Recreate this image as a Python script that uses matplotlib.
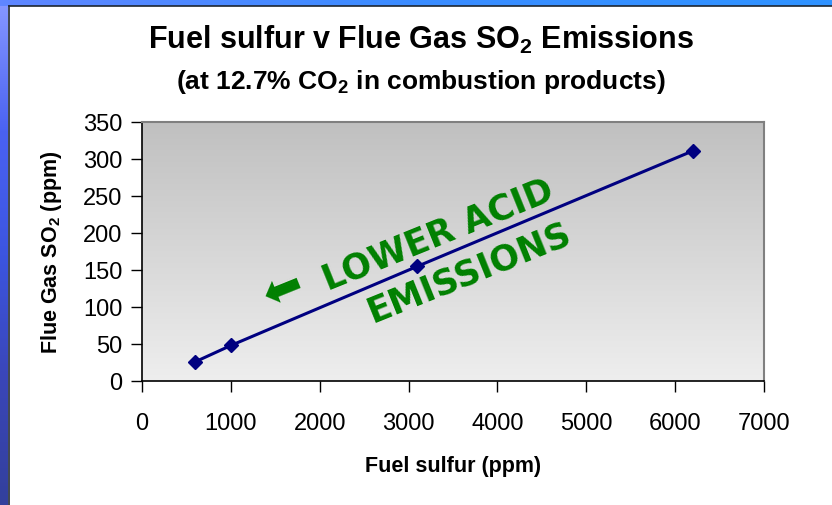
import numpy as np
import matplotlib
matplotlib.use("Agg")
import matplotlib.pyplot as plt
from matplotlib.colors import LinearSegmentedColormap

plt.rcParams['font.family'] = ['Liberation Sans', 'DejaVu Sans']
plt.rcParams['mathtext.default'] = 'regular'

# data
fuel_sulfur = [600, 1000, 3100, 6200]
flue_so2 = [26, 48, 155, 311]

x_ticks = [0, 1000, 2000, 3000, 4000, 5000, 6000, 7000]
y_ticks = [0, 50, 100, 150, 200, 250, 300, 350]

title = 'Fuel sulfur v Flue Gas SO$_2$ Emissions'
subtitle = '(at 12.7% CO$_2$ in combustion products)'
x_label = 'Fuel sulfur (ppm)'
y_label = 'Flue Gas SO$_2$ (ppm)'

W, H = 832, 506
fig = plt.figure(figsize=(W / 100, H / 100), dpi=100)
fig.patch.set_facecolor('white')

# slide frame: blue bands on top and left
top_band = fig.add_axes([0, 1 - 7 / H, 1, 7 / H])
top_band.imshow(np.linspace(0, 1, 256)[None, :], aspect='auto',
                cmap=LinearSegmentedColormap.from_list('tb', ['#5f86ff', '#3a8cff', '#2f93ff']),
                extent=[0, 1, 0, 1])
top_band.axis('off')
left_band = fig.add_axes([0, 0, 8 / W, 1 - 7 / H])
left_band.imshow(np.linspace(0, 1, 256)[:, None], aspect='auto',
                 cmap=LinearSegmentedColormap.from_list('lb', ['#8496ff', '#4a62f2', '#3c55e0', '#3a46b8', '#33409c']),
                 extent=[0, 1, 0, 1])
left_band.axis('off')
fig.add_artist(plt.Line2D([8.5 / W, 8.5 / W], [0, 1 - 7 / H], color='#1e2630', lw=1.2))
fig.add_artist(plt.Line2D([8.5 / W, 1], [1 - 7.2 / H, 1 - 7.2 / H], color='#1e2630', lw=1.2))

ax = fig.add_axes([142 / W, 1 - 382 / H, 622 / W, 259 / H])

# gray gradient plot area
grad = LinearSegmentedColormap.from_list('pa', ['#c0c0c0', '#eeeeee'])
ax.imshow(np.linspace(0, 1, 256)[:, None], aspect='auto', cmap=grad,
          extent=[0, 1, 0, 1], transform=ax.transAxes, zorder=0)

ax.plot(fuel_sulfur, flue_so2, color='#000080', lw=2.2, marker='D', ms=7, zorder=3)

ax.set_xlim(0, 7000)
ax.set_ylim(0, 350)
ax.set_xticks(x_ticks)
ax.set_yticks(y_ticks)
ax.tick_params(direction='out', length=8, width=1, labelsize=17, color='black')
ax.tick_params(axis='x', pad=14)
ax.tick_params(axis='y', pad=6)
for side in ['top', 'right']:
    ax.spines[side].set_color('#808080')
    ax.spines[side].set_linewidth(1.5)
for side in ['left', 'bottom']:
    ax.spines[side].set_color('black')
    ax.spines[side].set_linewidth(1.2)

fig.text(421 / W, 1 - 40 / H, title, ha='center', va='center',
         fontsize=22, fontweight='bold')
fig.text(421 / W, 1 - 82 / H, subtitle, ha='center', va='center',
         fontsize=19, fontweight='bold')
fig.text(453 / W, 1 - 467 / H, x_label, ha='center', va='center',
         fontsize=15.5, fontweight='bold')
fig.text(52 / W, 1 - 252 / H, y_label, ha='center', va='center',
         fontsize=15.5, fontweight='bold', rotation=90)

# green annotation along the line
green = '#008000'
ang = 22
ax.text(1590, 124, '\u2B05', color=green, fontsize=34,
        family='DejaVu Sans', rotation=ang, rotation_mode='anchor',
        ha='center', va='center', zorder=4)
ax.text(2093, 124, 'LOWER ACID', color=green, fontsize=25, fontweight='bold',
        family='DejaVu Sans', rotation=ang, rotation_mode='anchor',
        ha='left', va='baseline', zorder=4)
ax.text(2600, 80, 'EMISSIONS', color=green, fontsize=25, fontweight='bold',
        family='DejaVu Sans', rotation=ang, rotation_mode='anchor',
        ha='left', va='baseline', zorder=4)

fig.savefig('out.png', dpi=100)
